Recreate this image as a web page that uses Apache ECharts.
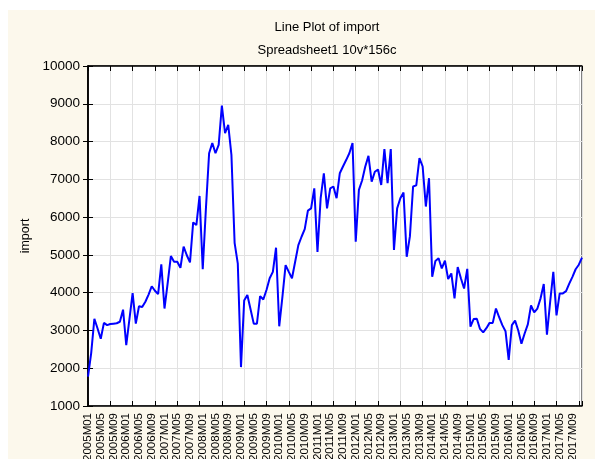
<!DOCTYPE html>
<html>
<head>
<meta charset="utf-8">
<script src="https://cdn.jsdelivr.net/npm/echarts@6/dist/echarts.min.js"></script>
<style>
  html, body { margin: 0; padding: 0; background: #ffffff; }
  #paper { position: absolute; left: 8px; top: 10px; width: 587px; height: 449px; background: #fcf8ec; }
  #main { position: absolute; left: 0; top: 0; width: 595px; height: 459px; }
</style>
</head>
<body>
<div id="paper"></div>
<div id="main"></div>
<script>
// months 2005M01 .. 2017M12 (156 cases)
var years = [2005, 2006, 2007, 2008, 2009, 2010, 2011, 2012, 2013, 2014, 2015, 2016, 2017];
var months = [];
years.forEach(function (y) {
    for (var m = 1; m <= 12; m++) {
        months.push(y + 'M' + (m < 10 ? '0' + m : m));
    }
});

// import values
var importVals = [
    1780, 2400, 3310, 3050, 2780, 3200, 3140, 3170, 3180, 3190, 3230, 3550,
    2610, 3300, 3990, 3180, 3640, 3620, 3760, 3950, 4170, 4050, 3960, 4750,
    3580, 4250, 4970, 4820, 4820, 4660, 5220, 4990, 4800, 5860, 5790, 6560,
    4620, 6230, 7690, 7960, 7690, 7910, 8950, 8220, 8440, 7650, 5320, 4770,
    2030, 3790, 3940, 3560, 3180, 3180, 3910, 3820, 4070, 4380, 4550, 5190,
    3110, 3890, 4730, 4550, 4380, 4820, 5260, 5480, 5680, 6170, 6230, 6760,
    5080, 6500, 7160, 6230, 6760, 6810, 6500, 7160, 7340, 7510, 7690, 7960,
    5350, 6720, 6970, 7340, 7620, 6940, 7200, 7260, 6850, 7800, 6900, 7800,
    5130, 6230, 6500, 6650, 4950, 5490, 6810, 6840, 7560, 7340, 6280, 7030,
    4420, 4840, 4910, 4640, 4850, 4360, 4510, 3850, 4680, 4380, 4110, 4630,
    3100, 3300, 3310, 3040, 2950, 3060, 3200, 3200, 3580, 3350, 3140, 2980,
    2220, 3140, 3260, 3000, 2650, 2920, 3160, 3660, 3480, 3580, 3850, 4230,
    2890, 3750, 4550, 3400, 3980, 3980, 4040, 4240, 4420, 4620, 4740, 4930
];

var yMin = 1000, yMax = 10000, yStep = 1000;
var labelEvery = 4;   // a case label every 4 months
var tickEvery = 7;    // axis ticks / grid lines every 7 cases

var chart = echarts.init(document.getElementById('main'));

var frameLine = { show: true, lineStyle: { color: '#000', width: 1.5 } };
var tickIn = { show: true, inside: true, length: 5, lineStyle: { color: '#000', width: 1 } };
var gridLine = { show: true, lineStyle: { color: '#e2e2e2', width: 1 } };
var font = 'Liberation Sans';

option = {
    backgroundColor: 'transparent',
    animation: false,
    title: [
        {
            text: 'Line Plot of import',
            left: 322, top: 16, textAlign: 'center',
            textStyle: { fontFamily: font, fontSize: 13, fontWeight: 'normal', color: '#000' }
        },
        {
            text: 'Spreadsheet1 10v*156c',
            left: 322, top: 39, textAlign: 'center',
            textStyle: { fontFamily: font, fontSize: 13, fontWeight: 'normal', color: '#000' }
        }
    ],
    grid: {
        left: 88, right: 13, top: 66, bottom: 53,
        outerBoundsMode: 'none',
        containLabel: false,
        show: true, backgroundColor: '#ffffff', borderColor: '#000', borderWidth: 1
    },
    xAxis: [
        {
            // case labels
            type: 'category',
            data: months,
            boundaryGap: false,
            position: 'bottom',
            axisLine: { show: false },
            axisTick: { show: false },
            splitLine: { show: false },
            axisLabel: {
                interval: labelEvery - 1,
                rotate: 90,
                margin: 7,
                fontFamily: font,
                fontSize: 11.5,
                color: '#000'
            }
        },
        {
            // ticks and grid lines
            type: 'value',
            min: 0, max: months.length - 1, interval: tickEvery,
            position: 'bottom',
            axisLine: frameLine,
            axisTick: tickIn,
            axisLabel: { show: false },
            splitLine: gridLine
        },
        {
            type: 'value',
            min: 0, max: months.length - 1, interval: tickEvery,
            position: 'top',
            axisLine: frameLine,
            axisTick: tickIn,
            axisLabel: { show: false },
            splitLine: { show: false }
        }
    ],
    yAxis: [
        {
            type: 'value',
            min: yMin, max: yMax, interval: yStep,
            position: 'left',
            name: 'import',
            nameLocation: 'middle',
            nameGap: 47,
            nameTextStyle: { fontFamily: font, fontSize: 12.5, color: '#000' },
            axisLine: frameLine,
            axisTick: tickIn,
            axisLabel: {
                margin: 8, fontFamily: font, fontSize: 13.5, color: '#000',
                formatter: function (v) { return String(v); }
            },
            splitLine: gridLine
        },
        {
            type: 'value',
            min: yMin, max: yMax, interval: yStep,
            position: 'right',
            axisLine: frameLine,
            axisTick: tickIn,
            axisLabel: { show: false },
            splitLine: { show: false }
        }
    ],
    series: [
        {
            type: 'line',
            xAxisIndex: 0,
            yAxisIndex: 0,
            data: importVals,
            showSymbol: false,
            lineStyle: { color: '#0000ff', width: 2 },
            itemStyle: { color: '#0000ff' }
        }
    ]
};

chart.setOption(option);
</script>
</body>
</html>
